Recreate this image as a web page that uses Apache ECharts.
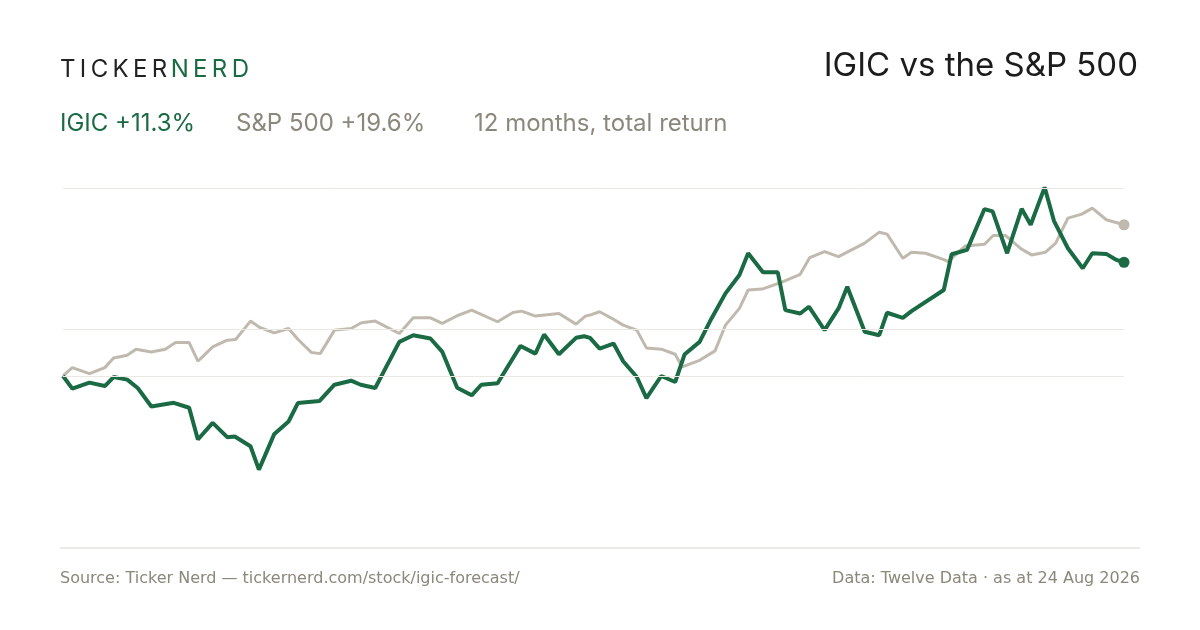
<!DOCTYPE html>
<html><head><meta charset="utf-8">
<script src="https://cdn.jsdelivr.net/npm/echarts@6/dist/echarts.min.js"></script>
<style>html,body{margin:0;background:#fff}#c{width:1200px;height:630px}</style>
</head><body><div id="c"></div>
<script>
const igicDays=[0,3.2,9.1,14.4,17.4,22.1,25.7,30.4,38.1,43.4,46.4,51.5,56.5,59.1,64.5,67.4,72.7,77.6,80.8,88.2,93.4,99.1,102.4,107.4,115.7,120.5,126.4,130.5,135.6,140.6,143.9,149.5,157.4,162.5,165.5,170.6,176.5,179.3,181.3,184.6,189.4,192.7,197.4,200.7,205.8,210.6,213.8,219.0,223.1,227.9,232.7,235.7,240.8,245.9,248.5,253.6,256.6,262.0,266.8,269.8,275.8,280.8,283.5,288.9,291.9,303.0,305.7,311.0,317.0,319.8,324.8,329.8,332.9,337.7,340.9,345.7,350.8,354.1,358.9,362.4,365];
const igicPct=[0,-1.35,-0.71,-1.07,-0.11,-0.39,-1.28,-3.24,-2.85,-3.38,-6.76,-4.98,-6.51,-6.44,-7.47,-9.96,-6.16,-4.84,-2.88,-2.67,-0.93,-0.5,-0.93,-1.28,3.63,4.34,3.99,2.56,-1.25,-2.06,-0.93,-0.78,3.2,2.38,4.41,2.31,4.06,4.23,4.06,2.92,3.45,1.57,-0.11,-2.35,0,-0.64,2.28,3.63,6.12,8.79,10.75,13.06,11.03,11.03,7.01,6.65,7.37,4.88,7.19,9.5,4.7,4.34,6.73,6.19,6.9,9.15,12.95,13.42,17.76,17.51,13.06,17.79,16.09,20.07,16.51,13.59,11.46,13.06,12.99,12.35,12.1];
const spxDays=[0,3.2,9.1,14.4,17.4,22.1,25.1,30.4,35.2,38.7,43.4,46.4,51.5,56.5,59.4,64.5,67.7,72.7,77.6,80.8,85.5,88.5,93.4,99.1,102.7,107.4,115.7,120.5,126.4,130.5,135.6,140.6,149.5,154.8,157.8,162.5,170.6,176.5,179.7,181.3,184.6,188.5,192.7,197.4,200.7,205.8,210.6,213.0,219.0,224.3,227.9,232.7,235.7,240.5,247.1,253.6,256.9,262.0,266.8,275.8,280.8,283.5,288.9,291.9,296.7,303.3,304.5,310.4,317.0,320.0,324.2,329.6,333.2,338.0,341.5,345.7,350.5,354.1,358.9,365];
const spxPct=[0,0.89,0.25,0.89,1.92,2.21,2.85,2.56,2.85,3.56,3.56,1.57,3.1,3.81,3.88,5.84,5.16,4.59,5.05,3.91,2.49,2.38,4.88,5.05,5.66,5.84,4.52,6.19,6.19,5.59,6.41,7.01,5.77,6.76,6.9,6.37,6.65,5.52,6.37,6.48,6.83,6.19,5.41,4.88,2.99,2.85,2.31,0.96,1.67,2.67,5.41,7.19,9.15,9.25,9.96,10.82,12.6,13.24,12.7,14.13,15.3,15.09,12.53,13.17,13.06,12.35,12.17,13.84,14.02,14.95,14.95,13.52,12.88,13.17,14.13,16.8,17.22,17.86,16.62,16.09];
const gridValues=[0,5,20];
const GREEN='#1a6a44',GREY='#c0b9ae',MUTED='#8c877b';
const zip=(a,b)=>a.map((d,i)=>[d,b[i]]);
const F='Inter, "Noto Sans", sans-serif';
const FW='"DejaVu Sans", sans-serif';
const sp=s=>s.split('').join('\u2009');
const chart=echarts.init(document.getElementById('c'));
chart.setOption({
 animation:false,
 grid:{left:63,right:76,top:188,height:360},
 xAxis:{type:'value',min:0,max:365,show:false},
 yAxis:{type:'value',min:-18.3,max:20,show:false},
 series:[
  {type:'line',data:zip(spxDays,spxPct),symbol:'none',lineStyle:{color:GREY,width:3},z:2,
   markLine:{silent:true,symbol:'none',label:{show:false},lineStyle:{color:'#ebe8e2',width:1,type:'solid'},data:gridValues.map(v=>({yAxis:v}))},
   markPoint:{symbol:'circle',symbolSize:11,itemStyle:{color:GREY},label:{show:false},data:[{coord:[365,spxPct[spxPct.length-1]]}]}},
  {type:'line',data:zip(igicDays,igicPct),symbol:'none',lineStyle:{color:GREEN,width:4},z:3,
   markPoint:{symbol:'circle',symbolSize:11,itemStyle:{color:GREEN},label:{show:false},data:[{coord:[365,igicPct[igicPct.length-1]]}]}}
 ],
 graphic:[
  {type:'text',left:60,top:58,style:{text:'{a|'+sp('TICKER')+'} {b|'+sp('NERD')+'}',rich:{a:{fill:'#222',fontSize:24,fontFamily:F,fontWeight:400},b:{fill:GREEN,fontSize:24,fontFamily:F,fontWeight:400}},fontFamily:F}},
  {type:'text',right:62,top:50,style:{text:'IGIC vs the S&P 500',fill:'#1c1c1c',fontSize:33,fontFamily:F}},
  {type:'text',left:60,top:112,style:{text:'IGIC +11.3%',fill:GREEN,fontSize:24,fontFamily:F}},
  {type:'text',left:236,top:112,style:{text:'S&P 500 +19.6%',fill:MUTED,fontSize:24,fontFamily:F}},
  {type:'text',left:474,top:112,style:{text:'12 months, total return',fill:MUTED,fontSize:24,fontFamily:F}},
  {type:'line',shape:{x1:60,y1:548,x2:1140,y2:548},style:{stroke:'#d9d5cc',lineWidth:1}},
  {type:'text',left:60,top:571,style:{text:'Source: Ticker Nerd — tickernerd.com/stock/igic-forecast/',fill:MUTED,fontSize:16,fontFamily:FW}},
  {type:'text',right:60,top:571,style:{text:'Data: Twelve Data · as at 24 Aug 2026',fill:MUTED,fontSize:16,fontFamily:FW}}
 ]
});
</script></body></html>
